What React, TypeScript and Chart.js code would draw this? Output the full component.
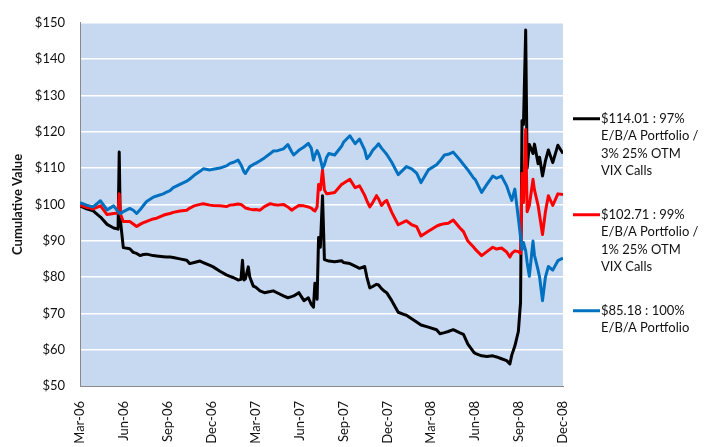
import React, { useEffect, useRef } from 'react';
import { Chart, registerables } from 'chart.js';

Chart.register(...registerables);

// time in months since Mar-06
const months = [
  0, 0.45, 0.9, 1.4, 1.85, 2.3, 2.6, 2.68, 2.75, 2.96,
  3.4, 3.64, 3.87, 4.1, 4.33, 4.55, 5.0, 5.24, 5.69, 5.92,
  6.15, 6.37, 6.83, 7.29, 7.5, 7.8, 8.2, 8.42, 8.88, 9.1,
  9.56, 10.0, 10.25, 10.5, 10.8, 11.0, 11.1, 11.2, 11.3, 11.5,
  11.6, 11.84, 12.0, 12.3, 12.6, 13.0, 13.2, 13.5, 13.9, 14.2,
  14.46, 14.6, 14.95, 15.3, 15.6, 15.8, 15.95, 16.05, 16.2, 16.3,
  16.42, 16.57, 16.7, 16.85, 17.0, 17.4, 17.87, 18.0, 18.44, 18.8,
  19.1, 19.45, 19.6, 19.8, 20.0, 20.26, 20.4, 20.6, 20.83, 20.95,
  21.3, 21.74, 22.2, 22.3, 22.66, 23.0, 23.3, 23.8, 24.36, 24.6,
  24.9, 25.16, 25.5, 25.96, 26.2, 26.5, 26.9, 27.0, 27.44, 27.8,
  28.2, 28.46, 28.8, 29.15, 29.37, 29.5, 29.71, 29.95, 30.1, 30.2,
  30.3, 30.45, 30.55, 30.7, 30.95, 31.05, 31.3, 31.4, 31.6, 31.8,
  32.0, 32.3, 32.65, 33.0,
];

// $114.01 : 97% E/B/A Portfolio / 3% 25% OTM VIX Calls
const value97 = [
  99.6, 98.8, 98.2, 96.5, 94.5, 93.5, 93.2, 114.4, 96.0, 88.1,
  87.8, 86.8, 86.5, 85.9, 86.2, 86.3, 85.9, 85.8, 85.6, 85.5,
  85.5, 85.4, 85.0, 84.6, 83.7, 84.0, 84.4, 84.0, 83.2, 82.8,
  81.6, 80.6, 80.2, 79.8, 79.2, 79.4, 84.6, 79.2, 79.5, 82.8,
  80.0, 77.5, 77.2, 76.2, 75.7, 76.0, 76.2, 75.6, 74.8, 74.3,
  74.6, 74.8, 75.7, 73.5, 74.3, 72.5, 71.7, 78.3, 73.9, 90.9,
  88.2, 102.4, 84.8, 84.6, 84.4, 84.2, 84.5, 84.0, 83.7, 83.0,
  82.4, 82.9, 80.0, 77.0, 77.4, 78.0, 77.8, 76.8, 76.0, 75.7,
  73.5, 70.3, 69.6, 69.5, 68.5, 67.6, 66.8, 66.2, 65.5, 64.4,
  64.7, 65.0, 65.5, 64.6, 64.2, 61.5, 59.3, 59.0, 58.3, 58.1,
  58.3, 58.0, 57.5, 57.0, 56.1, 58.5, 61.0, 65.0, 73.0, 123.0,
  122.0, 148.0, 110.0, 116.5, 114.0, 116.6, 111.2, 113.0, 107.8, 112.0,
  115.0, 111.5, 116.3, 114.0,
];

// $102.71 : 99% E/B/A Portfolio / 1% 25% OTM VIX Calls
const value99 = [
  99.8, 99.2, 98.8, 99.6, 97.2, 97.5, 97.6, 102.9, 97.5, 95.3,
  95.3, 94.6, 93.9, 94.5, 95.0, 95.3, 96.0, 96.2, 97.0, 97.3,
  97.5, 97.8, 98.2, 98.4, 99.0, 99.6, 100.0, 100.2, 99.8, 99.7,
  99.6, 99.4, 99.8, 99.9, 100.1, 100.0, 99.7, 99.4, 99.0, 98.8,
  98.7, 98.5, 98.6, 98.4, 99.4, 100.2, 100.0, 99.8, 100.0, 99.3,
  98.4, 98.8, 99.7, 99.6, 99.3, 99.0, 98.4, 98.2, 99.3, 105.5,
  104.0, 109.5, 104.0, 102.9, 103.0, 103.3, 105.5, 105.8, 106.9, 104.6,
  105.1, 102.5, 101.0, 99.3, 100.5, 102.4, 101.5, 99.7, 100.8, 101.1,
  97.8, 94.4, 95.3, 95.5, 94.4, 93.9, 91.3, 92.6, 94.0, 94.4,
  94.7, 94.8, 95.7, 93.5, 92.5, 89.9, 88.2, 87.7, 85.9, 87.0,
  88.2, 87.7, 88.0, 86.9, 85.5, 86.5, 87.2, 87.0, 86.5, 108.6,
  100.5, 120.6, 98.0, 99.7, 106.9, 104.0, 99.7, 97.0, 91.7, 98.0,
  102.4, 99.7, 102.9, 102.7,
];

// $85.18 : 100% E/B/A Portfolio
const value100 = [
  100.5, 99.8, 99.3, 101.0, 98.5, 99.6, 98.0, 97.6, 97.5, 98.0,
  98.9, 98.4, 97.5, 98.5, 99.7, 100.8, 102.0, 102.3, 102.9, 103.4,
  103.8, 104.6, 105.5, 106.4, 107.0, 108.0, 109.1, 109.8, 109.5, 109.7,
  110.0, 110.6, 111.3, 111.6, 112.2, 110.9, 110.0, 109.0, 108.5, 109.8,
  110.4, 111.0, 111.3, 112.0, 112.8, 114.0, 114.7, 114.8, 115.3, 116.5,
  114.5, 113.6, 114.9, 115.8, 116.8, 115.5, 112.2, 113.5, 114.8, 114.0,
  112.5, 110.0, 111.0, 113.0, 114.0, 113.6, 116.0, 117.1, 118.9, 116.7,
  118.0, 115.0, 112.6, 113.5, 114.9, 116.0, 116.7, 115.5, 114.4, 113.8,
  111.6, 108.2, 110.0, 110.4, 109.8, 108.6, 106.0, 109.5, 110.9, 112.0,
  113.6, 113.8, 114.4, 112.2, 111.0, 109.5, 107.2, 106.9, 103.3, 105.5,
  107.8, 107.2, 107.8, 105.1, 102.5, 101.1, 104.2, 96.2, 91.0, 87.5,
  89.5, 87.2, 84.0, 80.2, 89.9, 86.0, 81.9, 80.0, 73.5, 80.0,
  82.9, 81.9, 84.5, 85.2,
];

const xTickLabels = ['Mar-06', 'Jun-06', 'Sep-06', 'Dec-06', 'Mar-07', 'Jun-07', 'Sep-07', 'Dec-07', 'Mar-08', 'Jun-08', 'Sep-08', 'Dec-08'];

const legend97 = ['$114.01 : 97%', 'E/B/A Portfolio /', '3% 25% OTM', 'VIX Calls'];
const legend99 = ['$102.71 : 99%', 'E/B/A Portfolio /', '1% 25% OTM', 'VIX Calls'];
const legend100 = ['$85.18 : 100%', 'E/B/A Portfolio'];

const yAxisTitle = 'Cumulative Value';

const FONT = 'Lato, "Open Sans", sans-serif';

const bgPlugin = {
  id: 'plotBg',
  beforeDraw(chart: any) {
    const { ctx, chartArea } = chart;
    ctx.save();
    ctx.fillStyle = '#C6D9F1';
    ctx.fillRect(chartArea.left, chartArea.top, chartArea.right - chartArea.left, chartArea.bottom - chartArea.top);
    ctx.restore();
  },
};

const legendPlugin = {
  id: 'sideLegend',
  afterDraw(chart: any) {
    const ctx = chart.ctx;
    const lineH = 17.5;
    const gap = 26;
    const items = chart.data.datasets.map((ds: any) => ({ lines: ds.legendLines as string[], color: ds.borderColor as string }));
    const total = items.reduce((s: number, it: any) => s + it.lines.length * lineH, 0) + gap * (items.length - 1);
    let y = chart.height / 2 - total / 2 + lineH / 2;
    const x0 = chart.chartArea.right + 10;
    ctx.save();
    ctx.font = '13px ' + FONT;
    ctx.textBaseline = 'middle';
    ctx.textAlign = 'left';
    items.forEach((it: any) => {
      ctx.strokeStyle = it.color;
      ctx.lineWidth = 3;
      ctx.beginPath();
      ctx.moveTo(x0, y);
      ctx.lineTo(x0 + 27, y);
      ctx.stroke();
      ctx.fillStyle = '#111';
      it.lines.forEach((l: string, i: number) => ctx.fillText(l, x0 + 28, y + i * lineH));
      y += it.lines.length * lineH + gap;
    });
    ctx.restore();
  },
};

const toPoints = (vals: number[]) => vals.map((v, i) => ({ x: months[i], y: v }));

export default function App() {
  const ref = useRef<HTMLCanvasElement | null>(null);
  useEffect(() => {
    if (!ref.current) return;
    const chart = new Chart(ref.current, {
      type: 'line',
      data: {
        datasets: [
          { label: legend97.join(' '), legendLines: legend97, data: toPoints(value97), borderColor: '#000000', order: 2 } as any,
          { label: legend99.join(' '), legendLines: legend99, data: toPoints(value99), borderColor: '#FF0000', order: 1 } as any,
          { label: legend100.join(' '), legendLines: legend100, data: toPoints(value100), borderColor: '#0070C0', order: 0 } as any,
        ],
      },
      options: {
        animation: false,
        responsive: true,
        maintainAspectRatio: false,
        layout: { padding: { left: 0, right: 150, top: 12, bottom: 0 } },
        elements: {
          point: { radius: 0 },
          line: { borderWidth: 3, tension: 0, fill: false, borderJoinStyle: 'round' },
        },
        plugins: { legend: { display: false }, tooltip: { enabled: false } },
        scales: {
          x: {
            type: 'linear',
            min: 0,
            max: 33,
            afterFit: (s: any) => { s.height = 61; },
            ticks: {
              stepSize: 3,
              autoSkip: false,
              maxRotation: 90,
              minRotation: 90,
              padding: 15,
              color: '#111',
              font: { family: FONT, size: 13 },
              callback: (v: any) => xTickLabels[Math.round(Number(v) / 3)] ?? '',
            },
            grid: { display: false, drawTicks: false },
            border: { display: true, color: '#8a8a8a', width: 1 },
          },
          y: {
            min: 50,
            max: 150,
            afterFit: (s: any) => { s.width = 80; },
            ticks: {
              stepSize: 10,
              padding: 15,
              color: '#111',
              font: { family: FONT, size: 13 },
              callback: (v: any) => '$' + v,
            },
            grid: {
              drawTicks: false,
              lineWidth: 1.5,
              color: (c: any) => (c.tick && c.tick.value === 50 ? 'rgba(0,0,0,0)' : '#FFFFFF'),
            },
            border: { display: true, color: '#8a8a8a', width: 1 },
            title: {
              display: true,
              text: yAxisTitle,
              color: '#111',
              font: { family: FONT, size: 13, weight: 'bold' },
              padding: { top: 10, bottom: 0 },
            },
          },
        },
      } as any,
      plugins: [bgPlugin, legendPlugin],
    });
    return () => chart.destroy();
  }, []);
  return (
    <div style={{ position: 'fixed', left: 0, top: 0, width: 713, height: 447, background: '#fff' }}>
      <canvas ref={ref} />
    </div>
  );
}
